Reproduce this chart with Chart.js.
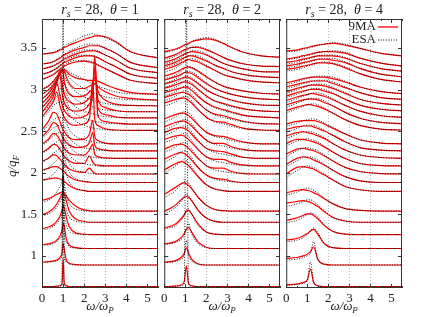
<!DOCTYPE html>
<html>
<head>
<meta charset="utf-8">
<script src="https://cdn.jsdelivr.net/npm/chart.js@4.4.1/dist/chart.umd.min.js"></script>
<style>
  body { margin: 0; background: #fff; width: 424px; height: 317px; position: relative; overflow: hidden; }
  canvas { position: absolute; top: 0; }
</style>
</head>
<body>
<canvas id="p1" width="166" height="317" style="left:0px"></canvas>
<canvas id="p2" width="130" height="317" style="left:158px"></canvas>
<canvas id="p3" width="130" height="317" style="left:280px"></canvas>
<script>
// q/q_F of every curve (N = 34 box), bottom to top
const qValues = [0.627, 0.887, 1.086, 1.254, 1.402, 1.536, 1.773, 1.881, 1.983, 2.080, 2.172, 2.261, 2.346,
                 2.508, 2.585, 2.660, 2.733, 2.804, 2.873, 2.941, 3.072, 3.135, 3.197, 3.258, 3.376];

const xTickValues = [0, 1, 2, 3, 4, 5];
const yTickValues = [1, 1.5, 2, 2.5, 3, 3.5];
const gridOmega = [2, 3, 4];
const legendLabels = ['9MA', 'ESA'];

// omega/omega_p sample points for each panel
const omegaTheta1 = [0, 0.3, 0.55, 0.7, 0.85, 0.95, 1.0, 1.05, 1.15, 1.3, 1.6, 2.0, 2.25, 2.4, 2.5, 2.65, 3.0, 3.5, 4.2, 5.5];
const omegaTheta2 = [0, 0.5, 0.8, 0.95, 1.05, 1.15, 1.3, 1.6, 2.0, 2.4, 2.8, 3.2, 3.8, 4.6, 5.5];
const omegaTheta4 = [0, 0.5, 0.8, 1.0, 1.15, 1.3, 1.5, 1.8, 2.2, 2.8, 3.5, 4.5, 5.5];

// curve heights above their q baseline (in q/q_F units), theta = 1
const s9maTheta1 = [
  [0, 0, 0, 0.005, 0.01, 0.04, 0.34, 0.05, 0.01, 0, 0, 0, 0, 0, 0, 0, 0, 0, 0, 0],
  [0.035, 0.04, 0.05, 0.06, 0.09, 0.15, 0.26, 0.2, 0.06, 0.02, 0.005, 0, 0, 0, 0, 0, 0, 0, 0, 0],
  [0.045, 0.055, 0.075, 0.1, 0.15, 0.22, 0.3, 0.28, 0.12, 0.04, 0.01, 0, 0, 0, 0, 0, 0, 0, 0, 0],
  [0.07, 0.09, 0.12, 0.16, 0.22, 0.29, 0.34, 0.33, 0.21, 0.09, 0.02, 0.005, 0, 0, 0, 0, 0, 0, 0, 0],
  [0.09, 0.12, 0.17, 0.22, 0.29, 0.34, 0.36, 0.35, 0.26, 0.13, 0.04, 0.01, 0, 0, 0, 0, 0, 0, 0, 0],
  [0.13, 0.15, 0.18, 0.2, 0.22, 0.23, 0.22, 0.21, 0.18, 0.13, 0.06, 0.015, 0.005, 0, 0, 0, 0, 0, 0, 0],
  [0.14, 0.15, 0.16, 0.16, 0.15, 0.14, 0.13, 0.12, 0.1, 0.07, 0.03, 0.01, 0, 0, 0, 0, 0, 0, 0, 0],
  [0.15, 0.17, 0.19, 0.19, 0.17, 0.15, 0.14, 0.13, 0.1, 0.07, 0.03, 0.01, 0.005, 0, 0, 0, 0, 0, 0, 0],
  [0.15, 0.19, 0.23, 0.22, 0.18, 0.15, 0.14, 0.12, 0.09, 0.06, 0.03, 0.02, 0.07, 0.03, 0.01, 0, 0, 0, 0, 0],
  [0.16, 0.21, 0.26, 0.25, 0.2, 0.16, 0.14, 0.12, 0.09, 0.06, 0.03, 0.03, 0.12, 0.05, 0.02, 0.01, 0, 0, 0, 0],
  [0.17, 0.23, 0.3, 0.28, 0.22, 0.17, 0.15, 0.13, 0.09, 0.06, 0.04, 0.04, 0.1, 0.17, 0.05, 0.02, 0.005, 0, 0, 0],
  [0.17, 0.25, 0.34, 0.32, 0.24, 0.18, 0.16, 0.14, 0.1, 0.07, 0.04, 0.05, 0.1, 0.22, 0.07, 0.03, 0.01, 0, 0, 0],
  [0.17, 0.27, 0.38, 0.36, 0.27, 0.2, 0.17, 0.15, 0.11, 0.07, 0.05, 0.06, 0.12, 0.28, 0.09, 0.04, 0.01, 0, 0, 0],
  [0.16, 0.26, 0.35, 0.46, 0.3, 0.22, 0.19, 0.16, 0.12, 0.08, 0.06, 0.08, 0.15, 0.6, 0.14, 0.06, 0.02, 0.005, 0, 0],
  [0.14, 0.24, 0.34, 0.5, 0.34, 0.24, 0.2, 0.17, 0.13, 0.09, 0.07, 0.09, 0.16, 0.35, 0.68, 0.1, 0.03, 0.01, 0, 0],
  [0.12, 0.21, 0.31, 0.42, 0.52, 0.3, 0.23, 0.19, 0.14, 0.1, 0.08, 0.1, 0.17, 0.3, 0.75, 0.12, 0.04, 0.01, 0, 0],
  [0.1, 0.18, 0.27, 0.36, 0.5, 0.36, 0.27, 0.22, 0.16, 0.12, 0.09, 0.11, 0.17, 0.25, 0.55, 0.15, 0.05, 0.015, 0, 0],
  [0.08, 0.15, 0.23, 0.3, 0.4, 0.44, 0.4, 0.3, 0.2, 0.14, 0.11, 0.12, 0.17, 0.22, 0.35, 0.18, 0.07, 0.02, 0.005, 0],
  [0.07, 0.12, 0.19, 0.25, 0.32, 0.36, 0.37, 0.35, 0.28, 0.2, 0.14, 0.14, 0.17, 0.19, 0.2, 0.16, 0.1, 0.05, 0.02, 0],
  [0.06, 0.1, 0.16, 0.21, 0.26, 0.29, 0.3, 0.3, 0.28, 0.24, 0.2, 0.18, 0.17, 0.17, 0.17, 0.16, 0.12, 0.07, 0.025, 0],
  [0.05, 0.08, 0.11, 0.14, 0.17, 0.19, 0.2, 0.21, 0.22, 0.24, 0.26, 0.27, 0.26, 0.25, 0.24, 0.22, 0.18, 0.12, 0.04, 0],
  [0.05, 0.07, 0.1, 0.12, 0.15, 0.17, 0.18, 0.19, 0.2, 0.22, 0.25, 0.27, 0.27, 0.27, 0.26, 0.25, 0.2, 0.14, 0.05, 0],
  [0.05, 0.07, 0.09, 0.11, 0.13, 0.15, 0.16, 0.17, 0.18, 0.2, 0.23, 0.26, 0.27, 0.27, 0.27, 0.26, 0.22, 0.16, 0.06, 0.005],
  [0.05, 0.06, 0.08, 0.1, 0.12, 0.14, 0.15, 0.16, 0.17, 0.19, 0.22, 0.25, 0.27, 0.27, 0.27, 0.27, 0.24, 0.18, 0.07, 0.005],
  [0.05, 0.06, 0.07, 0.08, 0.1, 0.11, 0.12, 0.13, 0.14, 0.16, 0.19, 0.23, 0.25, 0.26, 0.27, 0.27, 0.26, 0.2, 0.08, 0.005]
];
const esaTheta1 = [
  [0, 0, 0, 0, 0.005, 0.02, 3.4, 0.02, 0.005, 0, 0, 0, 0, 0, 0, 0, 0, 0, 0, 0],
  [0.03, 0.035, 0.04, 0.05, 0.07, 0.12, 1.6, 0.1, 0.04, 0.01, 0, 0, 0, 0, 0, 0, 0, 0, 0, 0],
  [0.04, 0.045, 0.06, 0.08, 0.12, 0.18, 1.0, 0.2, 0.08, 0.02, 0.005, 0, 0, 0, 0, 0, 0, 0, 0, 0],
  [0.06, 0.07, 0.1, 0.13, 0.18, 0.25, 0.7, 0.3, 0.12, 0.04, 0.01, 0, 0, 0, 0, 0, 0, 0, 0, 0],
  [0.08, 0.1, 0.14, 0.18, 0.25, 0.33, 0.55, 0.34, 0.16, 0.06, 0.015, 0, 0, 0, 0, 0, 0, 0, 0, 0],
  [0.1, 0.13, 0.18, 0.23, 0.3, 0.36, 0.42, 0.34, 0.2, 0.09, 0.025, 0.005, 0, 0, 0, 0, 0, 0, 0, 0],
  [0.12, 0.16, 0.21, 0.26, 0.31, 0.34, 0.35, 0.32, 0.22, 0.11, 0.04, 0.01, 0, 0, 0, 0, 0, 0, 0, 0],
  [0.13, 0.18, 0.23, 0.27, 0.31, 0.33, 0.34, 0.31, 0.22, 0.12, 0.045, 0.015, 0.005, 0, 0, 0, 0, 0, 0, 0],
  [0.14, 0.19, 0.25, 0.28, 0.31, 0.32, 0.32, 0.3, 0.23, 0.13, 0.05, 0.02, 0.01, 0.005, 0, 0, 0, 0, 0, 0],
  [0.15, 0.2, 0.26, 0.29, 0.31, 0.31, 0.31, 0.29, 0.23, 0.14, 0.06, 0.025, 0.015, 0.01, 0.005, 0, 0, 0, 0, 0],
  [0.15, 0.21, 0.27, 0.3, 0.31, 0.31, 0.3, 0.29, 0.24, 0.15, 0.07, 0.03, 0.02, 0.015, 0.01, 0.005, 0, 0, 0, 0],
  [0.15, 0.22, 0.28, 0.3, 0.31, 0.31, 0.3, 0.29, 0.24, 0.16, 0.08, 0.04, 0.025, 0.02, 0.015, 0.01, 0.005, 0, 0, 0],
  [0.15, 0.22, 0.29, 0.31, 0.32, 0.31, 0.3, 0.29, 0.25, 0.17, 0.09, 0.05, 0.03, 0.025, 0.02, 0.015, 0.005, 0, 0, 0],
  [0.14, 0.22, 0.3, 0.33, 0.34, 0.33, 0.32, 0.31, 0.27, 0.19, 0.11, 0.06, 0.04, 0.03, 0.025, 0.02, 0.01, 0, 0, 0],
  [0.13, 0.21, 0.29, 0.33, 0.35, 0.34, 0.33, 0.32, 0.28, 0.2, 0.12, 0.07, 0.05, 0.04, 0.03, 0.025, 0.01, 0.005, 0, 0],
  [0.12, 0.2, 0.28, 0.32, 0.35, 0.35, 0.34, 0.33, 0.29, 0.22, 0.13, 0.08, 0.06, 0.05, 0.04, 0.03, 0.015, 0.005, 0, 0],
  [0.1, 0.18, 0.26, 0.31, 0.35, 0.36, 0.35, 0.34, 0.3, 0.23, 0.15, 0.09, 0.07, 0.06, 0.05, 0.04, 0.02, 0.01, 0, 0],
  [0.09, 0.16, 0.24, 0.29, 0.34, 0.36, 0.36, 0.35, 0.31, 0.25, 0.17, 0.11, 0.08, 0.07, 0.06, 0.05, 0.03, 0.01, 0.005, 0],
  [0.07, 0.13, 0.2, 0.25, 0.31, 0.34, 0.35, 0.35, 0.32, 0.27, 0.2, 0.14, 0.11, 0.09, 0.08, 0.07, 0.04, 0.02, 0.005, 0],
  [0.06, 0.11, 0.17, 0.22, 0.27, 0.3, 0.31, 0.31, 0.3, 0.27, 0.23, 0.18, 0.15, 0.13, 0.12, 0.1, 0.07, 0.03, 0.01, 0],
  [0.05, 0.08, 0.12, 0.15, 0.18, 0.2, 0.21, 0.22, 0.24, 0.26, 0.28, 0.28, 0.27, 0.26, 0.25, 0.23, 0.18, 0.12, 0.04, 0],
  [0.05, 0.07, 0.1, 0.13, 0.16, 0.18, 0.19, 0.2, 0.22, 0.24, 0.27, 0.28, 0.28, 0.27, 0.27, 0.25, 0.2, 0.14, 0.05, 0],
  [0.05, 0.07, 0.09, 0.12, 0.14, 0.16, 0.17, 0.18, 0.2, 0.22, 0.25, 0.28, 0.28, 0.28, 0.28, 0.27, 0.22, 0.16, 0.06, 0.005],
  [0.05, 0.06, 0.08, 0.11, 0.13, 0.15, 0.16, 0.17, 0.18, 0.21, 0.24, 0.28, 0.29, 0.29, 0.28, 0.28, 0.24, 0.18, 0.07, 0.005],
  [0.05, 0.06, 0.07, 0.09, 0.11, 0.12, 0.13, 0.14, 0.16, 0.18, 0.22, 0.27, 0.29, 0.3, 0.29, 0.28, 0.25, 0.19, 0.08, 0.005]
];

// theta = 2
const s9maTheta2 = [
  [0, 0.005, 0.02, 0.06, 0.25, 0.04, 0.01, 0, 0, 0, 0, 0, 0, 0, 0],
  [0.035, 0.05, 0.09, 0.14, 0.21, 0.15, 0.07, 0.015, 0, 0, 0, 0, 0, 0, 0],
  [0.055, 0.08, 0.13, 0.18, 0.23, 0.25, 0.2, 0.08, 0.015, 0, 0, 0, 0, 0, 0],
  [0.08, 0.12, 0.19, 0.24, 0.28, 0.29, 0.25, 0.13, 0.03, 0.005, 0, 0, 0, 0, 0],
  [0.13, 0.2, 0.27, 0.3, 0.31, 0.3, 0.26, 0.15, 0.05, 0.01, 0, 0, 0, 0, 0],
  [0.2, 0.28, 0.33, 0.34, 0.33, 0.31, 0.27, 0.17, 0.07, 0.02, 0.005, 0, 0, 0, 0],
  [0.26, 0.33, 0.36, 0.35, 0.33, 0.31, 0.27, 0.18, 0.08, 0.03, 0.01, 0, 0, 0, 0],
  [0.28, 0.34, 0.36, 0.35, 0.33, 0.31, 0.27, 0.18, 0.09, 0.05, 0.04, 0.015, 0, 0, 0],
  [0.3, 0.35, 0.36, 0.35, 0.33, 0.31, 0.27, 0.19, 0.1, 0.07, 0.07, 0.03, 0.005, 0, 0],
  [0.32, 0.36, 0.37, 0.36, 0.34, 0.32, 0.28, 0.2, 0.11, 0.08, 0.08, 0.04, 0.01, 0, 0],
  [0.31, 0.36, 0.37, 0.36, 0.35, 0.33, 0.29, 0.21, 0.12, 0.09, 0.08, 0.05, 0.01, 0, 0],
  [0.29, 0.34, 0.36, 0.36, 0.35, 0.33, 0.3, 0.22, 0.13, 0.09, 0.09, 0.05, 0.015, 0, 0],
  [0.3, 0.35, 0.37, 0.37, 0.36, 0.34, 0.31, 0.23, 0.14, 0.1, 0.09, 0.06, 0.02, 0, 0],
  [0.33, 0.37, 0.39, 0.39, 0.38, 0.36, 0.33, 0.25, 0.16, 0.11, 0.1, 0.07, 0.025, 0.005, 0],
  [0.32, 0.36, 0.38, 0.38, 0.37, 0.36, 0.33, 0.26, 0.17, 0.12, 0.1, 0.07, 0.03, 0.005, 0],
  [0.3, 0.34, 0.36, 0.37, 0.37, 0.36, 0.33, 0.26, 0.18, 0.13, 0.1, 0.07, 0.03, 0.01, 0],
  [0.28, 0.32, 0.35, 0.36, 0.36, 0.35, 0.33, 0.27, 0.19, 0.13, 0.1, 0.07, 0.035, 0.01, 0],
  [0.26, 0.3, 0.33, 0.34, 0.35, 0.34, 0.32, 0.27, 0.19, 0.14, 0.1, 0.07, 0.035, 0.01, 0.005],
  [0.24, 0.28, 0.31, 0.33, 0.34, 0.33, 0.32, 0.27, 0.2, 0.14, 0.1, 0.07, 0.04, 0.015, 0.005],
  [0.22, 0.26, 0.3, 0.32, 0.33, 0.33, 0.32, 0.28, 0.21, 0.15, 0.1, 0.07, 0.04, 0.015, 0.005],
  [0.17, 0.21, 0.25, 0.27, 0.28, 0.29, 0.28, 0.26, 0.21, 0.16, 0.11, 0.08, 0.045, 0.02, 0.01],
  [0.15, 0.19, 0.23, 0.25, 0.26, 0.27, 0.27, 0.25, 0.21, 0.16, 0.12, 0.08, 0.045, 0.02, 0.01],
  [0.13, 0.17, 0.21, 0.23, 0.24, 0.25, 0.26, 0.25, 0.22, 0.17, 0.12, 0.085, 0.05, 0.02, 0.015],
  [0.12, 0.16, 0.2, 0.22, 0.23, 0.24, 0.25, 0.25, 0.22, 0.18, 0.13, 0.09, 0.05, 0.025, 0.02],
  [0.08, 0.11, 0.14, 0.16, 0.17, 0.18, 0.2, 0.22, 0.235, 0.22, 0.18, 0.13, 0.07, 0.03, 0.015]
];
const esaTheta2 = [
  [0, 0.005, 0.01, 0.03, 3.4, 0.03, 0.005, 0, 0, 0, 0, 0, 0, 0, 0],
  [0.03, 0.04, 0.07, 0.12, 0.3, 0.12, 0.05, 0.01, 0, 0, 0, 0, 0, 0, 0],
  [0.045, 0.07, 0.11, 0.16, 0.24, 0.3, 0.18, 0.06, 0.01, 0, 0, 0, 0, 0, 0],
  [0.07, 0.1, 0.17, 0.23, 0.3, 0.31, 0.25, 0.11, 0.03, 0.005, 0, 0, 0, 0, 0],
  [0.1, 0.17, 0.25, 0.31, 0.34, 0.32, 0.27, 0.14, 0.05, 0.01, 0, 0, 0, 0, 0],
  [0.16, 0.24, 0.32, 0.36, 0.36, 0.34, 0.28, 0.17, 0.07, 0.02, 0.005, 0, 0, 0, 0],
  [0.22, 0.3, 0.36, 0.38, 0.37, 0.35, 0.3, 0.19, 0.08, 0.03, 0.01, 0, 0, 0, 0],
  [0.24, 0.31, 0.37, 0.38, 0.37, 0.35, 0.3, 0.19, 0.09, 0.04, 0.02, 0.01, 0, 0, 0],
  [0.26, 0.32, 0.37, 0.38, 0.37, 0.35, 0.3, 0.2, 0.1, 0.05, 0.03, 0.015, 0.005, 0, 0],
  [0.28, 0.33, 0.38, 0.39, 0.38, 0.36, 0.31, 0.21, 0.11, 0.06, 0.04, 0.02, 0.005, 0, 0],
  [0.27, 0.33, 0.38, 0.39, 0.38, 0.37, 0.32, 0.22, 0.12, 0.07, 0.05, 0.03, 0.01, 0, 0],
  [0.25, 0.31, 0.36, 0.38, 0.38, 0.37, 0.33, 0.23, 0.13, 0.08, 0.06, 0.035, 0.01, 0, 0],
  [0.26, 0.32, 0.37, 0.39, 0.39, 0.38, 0.34, 0.24, 0.14, 0.09, 0.07, 0.04, 0.015, 0, 0],
  [0.29, 0.34, 0.39, 0.41, 0.41, 0.4, 0.36, 0.26, 0.16, 0.1, 0.08, 0.05, 0.02, 0.005, 0],
  [0.28, 0.33, 0.38, 0.4, 0.4, 0.39, 0.36, 0.27, 0.17, 0.11, 0.08, 0.055, 0.025, 0.005, 0],
  [0.26, 0.31, 0.36, 0.38, 0.39, 0.38, 0.36, 0.28, 0.18, 0.12, 0.09, 0.06, 0.025, 0.01, 0],
  [0.24, 0.29, 0.34, 0.37, 0.38, 0.37, 0.35, 0.28, 0.19, 0.13, 0.09, 0.06, 0.03, 0.01, 0],
  [0.22, 0.27, 0.32, 0.35, 0.36, 0.36, 0.34, 0.28, 0.2, 0.14, 0.1, 0.065, 0.03, 0.01, 0.005],
  [0.2, 0.25, 0.3, 0.33, 0.35, 0.35, 0.34, 0.29, 0.21, 0.14, 0.1, 0.07, 0.035, 0.015, 0.005],
  [0.19, 0.23, 0.28, 0.31, 0.33, 0.34, 0.33, 0.29, 0.22, 0.15, 0.1, 0.07, 0.04, 0.015, 0.005],
  [0.14, 0.18, 0.23, 0.26, 0.28, 0.29, 0.3, 0.28, 0.22, 0.16, 0.11, 0.08, 0.045, 0.02, 0.01],
  [0.13, 0.17, 0.21, 0.24, 0.26, 0.27, 0.28, 0.27, 0.22, 0.16, 0.12, 0.08, 0.045, 0.02, 0.01],
  [0.11, 0.15, 0.19, 0.22, 0.24, 0.25, 0.27, 0.27, 0.23, 0.17, 0.12, 0.085, 0.05, 0.02, 0.015],
  [0.1, 0.14, 0.18, 0.2, 0.22, 0.23, 0.25, 0.26, 0.23, 0.18, 0.13, 0.09, 0.05, 0.025, 0.02],
  [0.07, 0.1, 0.13, 0.15, 0.16, 0.17, 0.2, 0.23, 0.25, 0.23, 0.18, 0.13, 0.07, 0.03, 0.015]
];

// theta = 4
const s9maTheta4 = [
  [0.02, 0.03, 0.05, 0.08, 0.21, 0.05, 0.01, 0, 0, 0, 0, 0, 0],
  [0.08, 0.09, 0.11, 0.13, 0.16, 0.22, 0.07, 0.01, 0, 0, 0, 0, 0],
  [0.1, 0.12, 0.15, 0.18, 0.21, 0.23, 0.17, 0.06, 0.01, 0, 0, 0, 0],
  [0.17, 0.2, 0.23, 0.25, 0.25, 0.23, 0.19, 0.11, 0.04, 0.005, 0, 0, 0],
  [0.23, 0.25, 0.26, 0.25, 0.24, 0.22, 0.19, 0.13, 0.06, 0.015, 0, 0, 0],
  [0.22, 0.25, 0.26, 0.25, 0.24, 0.22, 0.2, 0.15, 0.09, 0.03, 0.01, 0, 0],
  [0.21, 0.29, 0.3, 0.29, 0.28, 0.27, 0.24, 0.2, 0.14, 0.06, 0.02, 0, 0],
  [0.22, 0.29, 0.31, 0.3, 0.29, 0.27, 0.25, 0.21, 0.15, 0.07, 0.02, 0, 0],
  [0.24, 0.3, 0.31, 0.3, 0.29, 0.28, 0.26, 0.22, 0.16, 0.08, 0.03, 0.005, 0],
  [0.27, 0.32, 0.32, 0.31, 0.3, 0.29, 0.27, 0.23, 0.17, 0.09, 0.03, 0.005, 0],
  [0.27, 0.31, 0.32, 0.31, 0.3, 0.29, 0.27, 0.24, 0.18, 0.1, 0.04, 0.01, 0],
  [0.26, 0.29, 0.3, 0.3, 0.3, 0.29, 0.27, 0.24, 0.19, 0.11, 0.04, 0.01, 0],
  [0.24, 0.27, 0.28, 0.28, 0.28, 0.28, 0.27, 0.24, 0.19, 0.12, 0.05, 0.01, 0],
  [0.24, 0.28, 0.3, 0.31, 0.31, 0.3, 0.29, 0.26, 0.21, 0.13, 0.06, 0.015, 0.005],
  [0.23, 0.27, 0.29, 0.3, 0.3, 0.3, 0.29, 0.26, 0.22, 0.14, 0.07, 0.02, 0.005],
  [0.21, 0.25, 0.27, 0.28, 0.29, 0.29, 0.28, 0.26, 0.22, 0.15, 0.08, 0.025, 0.005],
  [0.19, 0.23, 0.25, 0.26, 0.27, 0.27, 0.27, 0.25, 0.22, 0.15, 0.08, 0.03, 0.01],
  [0.17, 0.21, 0.23, 0.24, 0.25, 0.25, 0.25, 0.24, 0.21, 0.15, 0.08, 0.03, 0.01],
  [0.16, 0.19, 0.21, 0.22, 0.23, 0.23, 0.23, 0.23, 0.2, 0.15, 0.09, 0.03, 0.01],
  [0.14, 0.17, 0.19, 0.2, 0.21, 0.21, 0.21, 0.21, 0.19, 0.15, 0.09, 0.035, 0.01],
  [0.17, 0.19, 0.21, 0.22, 0.23, 0.24, 0.25, 0.25, 0.24, 0.19, 0.12, 0.05, 0.02],
  [0.15, 0.17, 0.19, 0.2, 0.21, 0.22, 0.23, 0.23, 0.22, 0.19, 0.12, 0.05, 0.02],
  [0.13, 0.15, 0.17, 0.18, 0.19, 0.2, 0.21, 0.21, 0.21, 0.18, 0.12, 0.055, 0.025],
  [0.11, 0.13, 0.15, 0.16, 0.17, 0.18, 0.19, 0.2, 0.2, 0.18, 0.12, 0.06, 0.025],
  [0.09, 0.1, 0.12, 0.13, 0.14, 0.15, 0.16, 0.17, 0.18, 0.16, 0.12, 0.06, 0.03]
];
const esaTheta4 = [
  [0.015, 0.025, 0.04, 0.07, 0.3, 0.06, 0.01, 0, 0, 0, 0, 0, 0],
  [0.06, 0.07, 0.09, 0.11, 0.14, 0.28, 0.06, 0.01, 0, 0, 0, 0, 0],
  [0.08, 0.1, 0.13, 0.17, 0.21, 0.25, 0.19, 0.06, 0.01, 0, 0, 0, 0],
  [0.14, 0.17, 0.21, 0.24, 0.26, 0.25, 0.21, 0.12, 0.04, 0.005, 0, 0, 0],
  [0.19, 0.22, 0.25, 0.27, 0.27, 0.25, 0.21, 0.14, 0.06, 0.015, 0, 0, 0],
  [0.19, 0.23, 0.26, 0.28, 0.27, 0.25, 0.22, 0.16, 0.09, 0.03, 0.01, 0, 0],
  [0.17, 0.25, 0.29, 0.31, 0.3, 0.29, 0.26, 0.21, 0.14, 0.06, 0.02, 0, 0],
  [0.19, 0.26, 0.3, 0.31, 0.31, 0.29, 0.27, 0.22, 0.15, 0.07, 0.02, 0, 0],
  [0.21, 0.28, 0.31, 0.32, 0.31, 0.3, 0.28, 0.23, 0.16, 0.08, 0.03, 0.005, 0],
  [0.24, 0.3, 0.32, 0.33, 0.32, 0.31, 0.29, 0.24, 0.17, 0.09, 0.03, 0.005, 0],
  [0.24, 0.29, 0.32, 0.32, 0.32, 0.31, 0.29, 0.25, 0.18, 0.1, 0.04, 0.01, 0],
  [0.23, 0.27, 0.3, 0.31, 0.31, 0.31, 0.29, 0.25, 0.19, 0.11, 0.04, 0.01, 0],
  [0.21, 0.25, 0.28, 0.29, 0.3, 0.3, 0.29, 0.25, 0.2, 0.12, 0.05, 0.01, 0],
  [0.21, 0.26, 0.29, 0.31, 0.32, 0.32, 0.31, 0.27, 0.21, 0.13, 0.06, 0.015, 0.005],
  [0.2, 0.25, 0.28, 0.3, 0.31, 0.31, 0.31, 0.28, 0.22, 0.14, 0.07, 0.02, 0.005],
  [0.18, 0.23, 0.26, 0.28, 0.29, 0.3, 0.3, 0.28, 0.23, 0.15, 0.08, 0.025, 0.005],
  [0.17, 0.21, 0.24, 0.26, 0.27, 0.28, 0.28, 0.27, 0.23, 0.15, 0.08, 0.03, 0.01],
  [0.15, 0.19, 0.22, 0.24, 0.25, 0.26, 0.26, 0.26, 0.22, 0.16, 0.08, 0.03, 0.01],
  [0.14, 0.17, 0.2, 0.21, 0.22, 0.23, 0.24, 0.24, 0.22, 0.16, 0.09, 0.03, 0.01],
  [0.12, 0.15, 0.18, 0.19, 0.2, 0.21, 0.22, 0.22, 0.21, 0.16, 0.09, 0.035, 0.01],
  [0.15, 0.17, 0.19, 0.21, 0.22, 0.23, 0.25, 0.26, 0.25, 0.2, 0.12, 0.05, 0.02],
  [0.13, 0.15, 0.18, 0.19, 0.2, 0.21, 0.23, 0.24, 0.24, 0.2, 0.12, 0.05, 0.02],
  [0.11, 0.13, 0.16, 0.17, 0.18, 0.19, 0.21, 0.22, 0.22, 0.19, 0.12, 0.055, 0.025],
  [0.1, 0.12, 0.14, 0.15, 0.16, 0.17, 0.19, 0.2, 0.21, 0.19, 0.12, 0.06, 0.025],
  [0.08, 0.09, 0.11, 0.12, 0.13, 0.14, 0.16, 0.17, 0.19, 0.17, 0.12, 0.06, 0.03]
];

const serif = '"Liberation Serif", "DejaVu Serif", serif';
const tickFont = { family: serif, size: 13 };

// text pieces: [text, style]  style: '' upright, 'i' italic, 's' italic subscript
function drawRich(ctx, parts, cx, cy, size) {
  const fonts = parts.map(p => (p[1] ? 'italic ' : '') + (p[1] === 's' ? Math.round(size * 0.7) : size) + 'px ' + serif);
  const widths = parts.map((p, k) => { ctx.font = fonts[k]; return ctx.measureText(p[0]).width; });
  let x = cx - widths.reduce((a, b) => a + b, 0) / 2;
  ctx.textAlign = 'left';
  ctx.textBaseline = 'middle';
  ctx.fillStyle = '#222';
  parts.forEach((p, k) => {
    ctx.font = fonts[k];
    ctx.fillText(p[0], x, p[1] === 's' ? cy + size * 0.28 : cy);
    x += widths[k];
  });
}

const xTitle = [['ω/ω', 'i'], ['P', 's']];
const yTitle = [['q/q', 'i'], ['F', 's']];

const panelDecor = {
  id: 'panelDecor',
  beforeDatasetsDraw(chart) {
    const { ctx, chartArea: a, scales: { x } } = chart;
    ctx.save();
    ctx.strokeStyle = '#b4b4b4';
    ctx.lineWidth = 1;
    ctx.setLineDash([1, 2]);
    gridOmega.forEach(w => {
      const px = Math.round(x.getPixelForValue(w)) + 0.5;
      ctx.beginPath();
      ctx.moveTo(px, a.top);
      ctx.lineTo(px, a.bottom);
      ctx.stroke();
    });
    ctx.restore();
  },
  afterDatasetsDraw(chart, args, opts) {
    const { ctx, chartArea: a, scales: { x, y } } = chart;
    ctx.save();
    ctx.setLineDash([]);
    ctx.strokeStyle = '#333';
    ctx.lineWidth = 1;
    ctx.strokeRect(a.left + 0.5, a.top + 0.5, a.right - a.left - 1, a.bottom - a.top - 1);
    ctx.beginPath();
    for (let w = 0; w <= 5.5; w += 0.5) {
      const px = Math.round(x.getPixelForValue(w)) + 0.5;
      const len = Number.isInteger(w) ? 4 : 2;
      ctx.moveTo(px, a.bottom); ctx.lineTo(px, a.bottom - len);
      ctx.moveTo(px, a.top); ctx.lineTo(px, a.top + len);
    }
    yTickValues.forEach(v => {
      const py = Math.round(y.getPixelForValue(v)) + 0.5;
      ctx.moveTo(a.left, py); ctx.lineTo(a.left + 4, py);
      ctx.moveTo(a.right, py); ctx.lineTo(a.right - 4, py);
    });
    ctx.stroke();

    drawRich(ctx, opts.title, (a.left + a.right) / 2, 10, 14);
    drawRich(ctx, xTitle, (a.left + a.right) / 2, 307, 13);

    if (opts.showY) {
      ctx.save();
      ctx.translate(13, 166);
      ctx.rotate(-Math.PI / 2);
      drawRich(ctx, yTitle, 0, 0, 13);
      ctx.restore();
    }

    if (opts.legend) {
      ctx.font = '13px ' + serif;
      ctx.textAlign = 'right';
      ctx.textBaseline = 'middle';
      ctx.fillStyle = '#222';
      ctx.fillText(legendLabels[0], a.right - 26, a.top + 8);
      ctx.fillText(legendLabels[1], a.right - 26, a.top + 21);
      ctx.strokeStyle = '#f00';
      ctx.lineWidth = 1.3;
      ctx.beginPath(); ctx.moveTo(a.right - 24, a.top + 8); ctx.lineTo(a.right - 4, a.top + 8); ctx.stroke();
      ctx.strokeStyle = '#000';
      ctx.lineWidth = 1;
      ctx.setLineDash([1, 1.6]);
      ctx.beginPath(); ctx.moveTo(a.right - 24, a.top + 21); ctx.lineTo(a.right - 4, a.top + 21); ctx.stroke();
    }
    ctx.restore();
  }
};

function buildDatasets(omega, rows9, rowsEsa) {
  const sets = [];
  qValues.forEach((q, i) => {
    sets.push({
      label: legendLabels[0],
      data: omega.map((w, k) => ({ x: w, y: q + rows9[i][k] })),
      borderColor: '#f00',
      borderWidth: 1.2,
      order: 1
    });
    sets.push({
      label: legendLabels[1],
      data: omega.map((w, k) => ({ x: w, y: q + rowsEsa[i][k] })),
      borderColor: '#000',
      borderWidth: 0.9,
      borderDash: [1, 1.6],
      order: 0
    });
  });
  return sets;
}

function makePanel(id, omega, rows9, rowsEsa, cfg) {
  return new Chart(document.getElementById(id), {
    type: 'line',
    data: { datasets: buildDatasets(omega, rows9, rowsEsa) },
    options: {
      responsive: false,
      animation: false,
      events: [],
      layout: { padding: { top: 19, bottom: 0, left: cfg.padLeft, right: 8 } },
      elements: {
        point: { radius: 0 },
        line: { cubicInterpolationMode: 'monotone', fill: false }
      },
      plugins: {
        legend: { display: false },
        tooltip: { enabled: false },
        panelDecor: cfg
      },
      scales: {
        x: {
          type: 'linear', min: 0, max: 5.5,
          afterFit: s => { s.height = 29; },
          afterBuildTicks: s => { s.ticks = xTickValues.map(v => ({ value: v })); },
          grid: { display: false, drawTicks: false },
          border: { display: false },
          ticks: { padding: 3, font: tickFont, color: '#222', maxRotation: 0, autoSkip: false, callback: v => String(v) }
        },
        y: {
          type: 'linear', min: 0.61, max: 3.85,
          display: cfg.showY,
          afterFit: s => { s.width = cfg.yWidth; },
          afterBuildTicks: s => { s.ticks = yTickValues.map(v => ({ value: v })); },
          grid: { display: false, drawTicks: false },
          border: { display: false },
          ticks: { padding: 5, font: tickFont, color: '#222', callback: v => String(v) }
        }
      }
    },
    plugins: [panelDecor]
  });
}

makePanel('p1', omegaTheta1, s9maTheta1, esaTheta1, {
  padLeft: 0, yWidth: 42, showY: true, legend: false,
  title: [['r', 'i'], ['s', 's'], [' = 28,  ', ''], ['θ', 'i'], [' = 1', '']]
});
makePanel('p2', omegaTheta2, s9maTheta2, esaTheta2, {
  padLeft: 6, yWidth: 0, showY: false, legend: false,
  title: [['r', 'i'], ['s', 's'], [' = 28,  ', ''], ['θ', 'i'], [' = 2', '']]
});
makePanel('p3', omegaTheta4, s9maTheta4, esaTheta4, {
  padLeft: 6, yWidth: 0, showY: false, legend: true,
  title: [['r', 'i'], ['s', 's'], [' = 28,  ', ''], ['θ', 'i'], [' = 4', '']]
});
</script>
</body>
</html>
